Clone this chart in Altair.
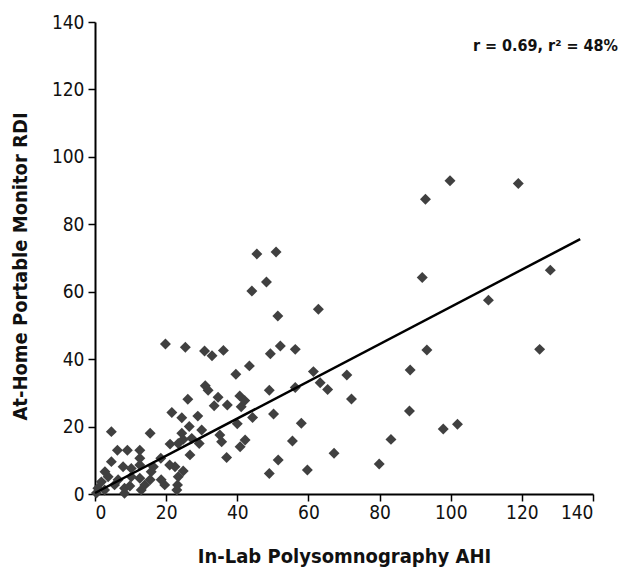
import altair as alt
import pandas as pd

# In-Lab Polysomnography AHI (x) and At-Home Portable Monitor RDI (y)
ahi = [99.8, 92.9, 119.0, 128.0, 110.6, 125.0, 97.9, 101.9, 92.0, 93.3, 88.6, 88.4, 83.2, 79.9,
       45.5, 50.9, 48.2, 44.1, 62.8, 51.4, 52.1, 49.3, 56.3, 61.4, 70.8, 63.3, 65.4, 56.3, 49.0,
       72.1, 44.3, 50.2, 58.0, 55.5, 51.5, 49.0, 59.7, 67.2,
       19.8, 25.4, 30.8, 32.9, 36.1, 43.4, 39.6, 31.0, 31.8, 26.1, 34.6, 40.7, 42.1, 33.5, 37.2,
       41.1, 21.6, 24.4, 28.9, 26.5, 30.0, 15.5, 24.4, 24.8, 27.2, 21.1, 29.3, 35.1, 35.6, 40.0,
       42.2, 40.8, 26.7, 37.0, 23.4, 22.5, 24.8, 23.4, 23.2, 23.0,
       4.6, 6.3, 9.1, 12.6, 4.6, 12.6, 12.6, 7.9, 10.2, 18.5, 21.0, 15.8, 10.2, 12.6, 3.7, 1.8,
       5.5, 0.8, 2.7, 8.3, 8.3, 14.0, 13.0, 19.6, 18.6, 0.4, 16.4, 2.8, 6.5, 15.5, 9.8]
rdi = [92.9, 87.4, 92.1, 66.4, 57.5, 42.9, 19.3, 20.7, 64.2, 42.7, 36.8, 24.6, 16.2, 8.9,
       71.2, 71.8, 62.9, 60.2, 54.8, 52.8, 43.9, 41.6, 42.9, 36.3, 35.3, 33.0, 31.0, 31.6, 30.8,
       28.2, 22.7, 23.7, 21.0, 15.7, 10.1, 6.1, 7.1, 12.1,
       44.5, 43.5, 42.4, 41.0, 42.6, 38.0, 35.5, 32.1, 30.8, 28.1, 28.7, 29.1, 27.7, 26.2, 26.4,
       25.9, 24.2, 22.6, 23.1, 20.0, 19.0, 18.0, 18.0, 16.2, 16.5, 14.8, 15.0, 17.5, 15.5, 20.8,
       16.0, 14.0, 11.6, 10.8, 15.0, 8.1, 6.8, 5.1, 2.7, 1.2,
       18.5, 13.0, 13.0, 13.0, 9.6, 10.6, 8.6, 8.1, 7.6, 10.6, 8.6, 6.6, 5.1, 4.7, 5.1, 3.6,
       2.7, 1.7, 1.2, 1.7, 0.2, 2.7, 1.2, 2.7, 4.2, 0.3, 8.1, 6.6, 4.2, 4.2, 2.4]

# Linear trend line end points
trend_x = [0.0, 136.4]
trend_y = [0.3, 75.6]

x_ticks = [0, 20, 40, 60, 80, 100, 120, 140]
y_ticks = [0, 20, 40, 60, 80, 100, 120, 140]
x_title = "In-Lab Polysomnography AHI"
y_title = "At-Home Portable Monitor RDI"
annotation = ["r = 0.69, r\u00b2 = 48%"]

FONT = "Liberation Sans Narrow, Arial Narrow, DejaVu Sans Condensed, sans-serif"
INK = "#111111"

pts = pd.DataFrame({"ahi": ahi, "rdi": rdi})
line_df = pd.DataFrame({"ahi": trend_x, "rdi": trend_y})
ann_df = pd.DataFrame({"label": annotation})

xscale = alt.Scale(domain=[0, 140], nice=False)
yscale = alt.Scale(domain=[0, 140], nice=False)

xaxis = alt.Axis(
    values=x_ticks, title=x_title, grid=False,
    domainColor="black", domainWidth=2, tickColor="black", tickWidth=1.5, tickSize=7,
    labelFont=FONT, labelFontSize=19, labelColor=INK, labelPadding=2,
    titleFont=FONT, titleFontSize=20, titleFontWeight="bold", titleColor=INK,
    titleX=249, titleY=62, titleBaseline="middle", titleAlign="center",
)
yaxis = alt.Axis(
    values=y_ticks, title=y_title, grid=False,
    domainColor="black", domainWidth=2, tickColor="black", tickWidth=1.5, tickSize=7,
    labelFont=FONT, labelFontSize=19, labelColor=INK, labelPadding=4,
    titleFont=FONT, titleFontSize=20, titleFontWeight="bold", titleColor=INK,
    titleX=-75, titleY=244, titleAngle=270, titleBaseline="middle", titleAlign="center",
)

points = alt.Chart(pts).mark_point(
    shape="diamond", filled=True, size=120, color="#404040", opacity=1
).encode(
    x=alt.X("ahi:Q", scale=xscale, axis=xaxis),
    y=alt.Y("rdi:Q", scale=yscale, axis=yaxis),
)

trend = alt.Chart(line_df).mark_line(color="black", strokeWidth=2.5).encode(
    x=alt.X("ahi:Q", scale=xscale),
    y=alt.Y("rdi:Q", scale=yscale),
)

label = alt.Chart(ann_df).mark_text(
    font=FONT, fontSize=16, fontWeight="bold", color=INK, align="right", baseline="middle"
).encode(
    text="label:N",
    x=alt.value(523),
    y=alt.value(24),
)

chart = alt.layer(points, trend, label).properties(
    width=498,
    height=472,
    autosize=alt.AutoSizeParams(type="none"),
    padding={"left": 87, "top": 14, "right": 43, "bottom": 73},
    background="white",
).configure_view(stroke=None)

chart.save("out.html", embed_options={"renderer": "svg", "actions": False})
